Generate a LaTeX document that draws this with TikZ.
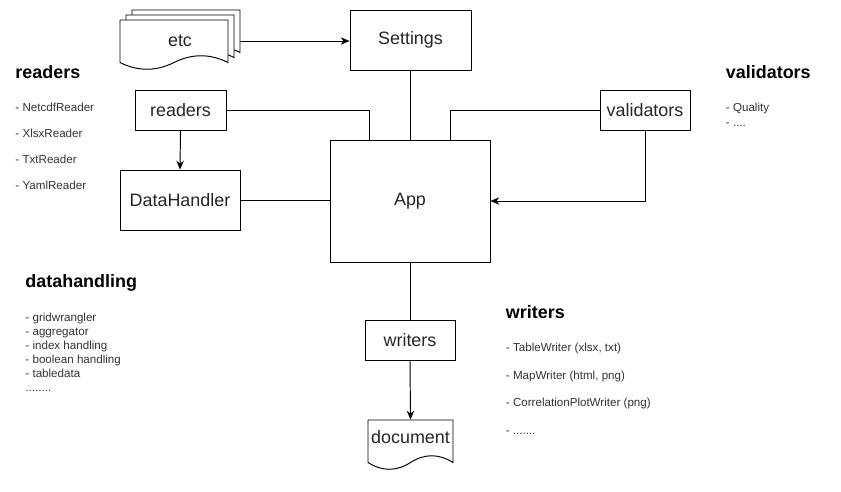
\documentclass[tikz,border=0pt]{standalone}
\usepackage{fontspec}
\setmainfont{Liberation Sans}
\usepackage{xcolor}
\usetikzlibrary{arrows.meta,calc}
\definecolor{gristexto}{HTML}{333333}

% hoja con borde ondulado: x y ancho alto
\newcommand{\hojapath}[4]{%
\filldraw[fill=white] (#1,#2) -- ({#1+#3},#2) -- ({#1+#3},{#2+0.85*#4})
 .. controls ({#1+0.8333*#3},{#2+0.67*#4}) and ({#1+0.6667*#3},{#2+0.67*#4}) .. ({#1+0.5*#3},{#2+0.85*#4})
 .. controls ({#1+0.3333*#3},{#2+1.03*#4}) and ({#1+0.1667*#3},{#2+1.03*#4}) .. (#1,{#2+0.85*#4}) -- cycle;}

\begin{document}
\begin{tikzpicture}[x=0.02cm,y=-0.02cm,line width=0.55pt,>={Stealth[length=5pt,width=4.2pt]}]
\tikzstyle{box}=[draw,fill=white,inner sep=0pt,text=black!85,font=\fontsize{10.2}{12}\selectfont]
\tikzstyle{titulo}=[anchor=base west,inner sep=0pt,font=\bfseries\fontsize{10.2}{12}\selectfont]
\tikzstyle{lista}=[anchor=north west,inner sep=0pt,align=left,text=gristexto]
\useasboundingbox (0,0) rectangle (841,491);
%hojas
\hojapath{132}{10}{108}{50}
\hojapath{126}{15}{108}{50}
\hojapath{120}{20}{108}{50}
\hojapath{368}{420}{85}{50}
%nodos
\node[box,draw=none,fill=none,minimum width=2.4cm,minimum height=0.84cm] (etc) at (180,41) {etc};
\node[box,minimum width=2.42cm,minimum height=1.2cm] (set) at (410.5,40) {Settings};
\node[box,minimum width=1.82cm,minimum height=0.8cm] (rdr) at (180.5,110) {readers};
\node[box,minimum width=2.4cm,minimum height=1.2cm] (dh) at (180,200) {DataHandler};
\node[box,minimum width=3.2cm,minimum height=2.44cm] (app) at (410,201) {App};
\node[box,minimum width=1.8cm,minimum height=0.8cm] (val) at (645,110) {validators};
\node[box,minimum width=1.8cm,minimum height=0.8cm] (wrt) at (410,340) {writers};
\node[box,draw=none,fill=none,minimum width=1.7cm,minimum height=0.68cm] (doc) at (410.5,437) {document};
%conexiones
\draw[->] (etc.east) -- (etc.east -| set.west);
\draw (set.south) -- (set.south |- app.north);
\draw (rdr.east) -| ($(app.north west)!0.25!(app.north east)$);
\draw (val.west) -| ($(app.north west)!0.75!(app.north east)$);
\draw[->] (rdr.south) -- (dh.north);
\draw (dh.east) -- (dh.east -| app.west);
\draw[->] (val.south) |- (app.east);
\draw (app.south) -- (wrt.north);
\draw[->] (wrt.south) -- (doc.north);
%textos
\node[titulo] (t1) at (15,78) {readers};
\node[lista,font=\fontsize{6.6}{14.9}\selectfont] (l1) at (15,102.5) {- NetcdfReader\\- XlsxReader\\- TxtReader\\- YamlReader};
\node[titulo] (t2) at (725.5,78) {validators};
\node[lista,font=\fontsize{6.6}{8.5}\selectfont] (l2) at (725.5,102.5) {- Quality\\- ....};
\node[titulo] (t3) at (25,287.7) {datahandling};
\node[lista,font=\fontsize{6.6}{7.94}\selectfont] (l3) at (25,312.5) {- gridwrangler\\- aggregator\\- index handling\\- boolean handling\\- tabledata\\........};
\node[titulo] (t4) at (505.5,318) {writers};
\node[lista,font=\fontsize{6.6}{15.6}\selectfont] (l4) at (505.5,343) {- TableWriter (xlsx, txt)\\- MapWriter (html, png)\\- CorrelationPlotWriter (png)\\- .......};
\end{tikzpicture}
\end{document}
